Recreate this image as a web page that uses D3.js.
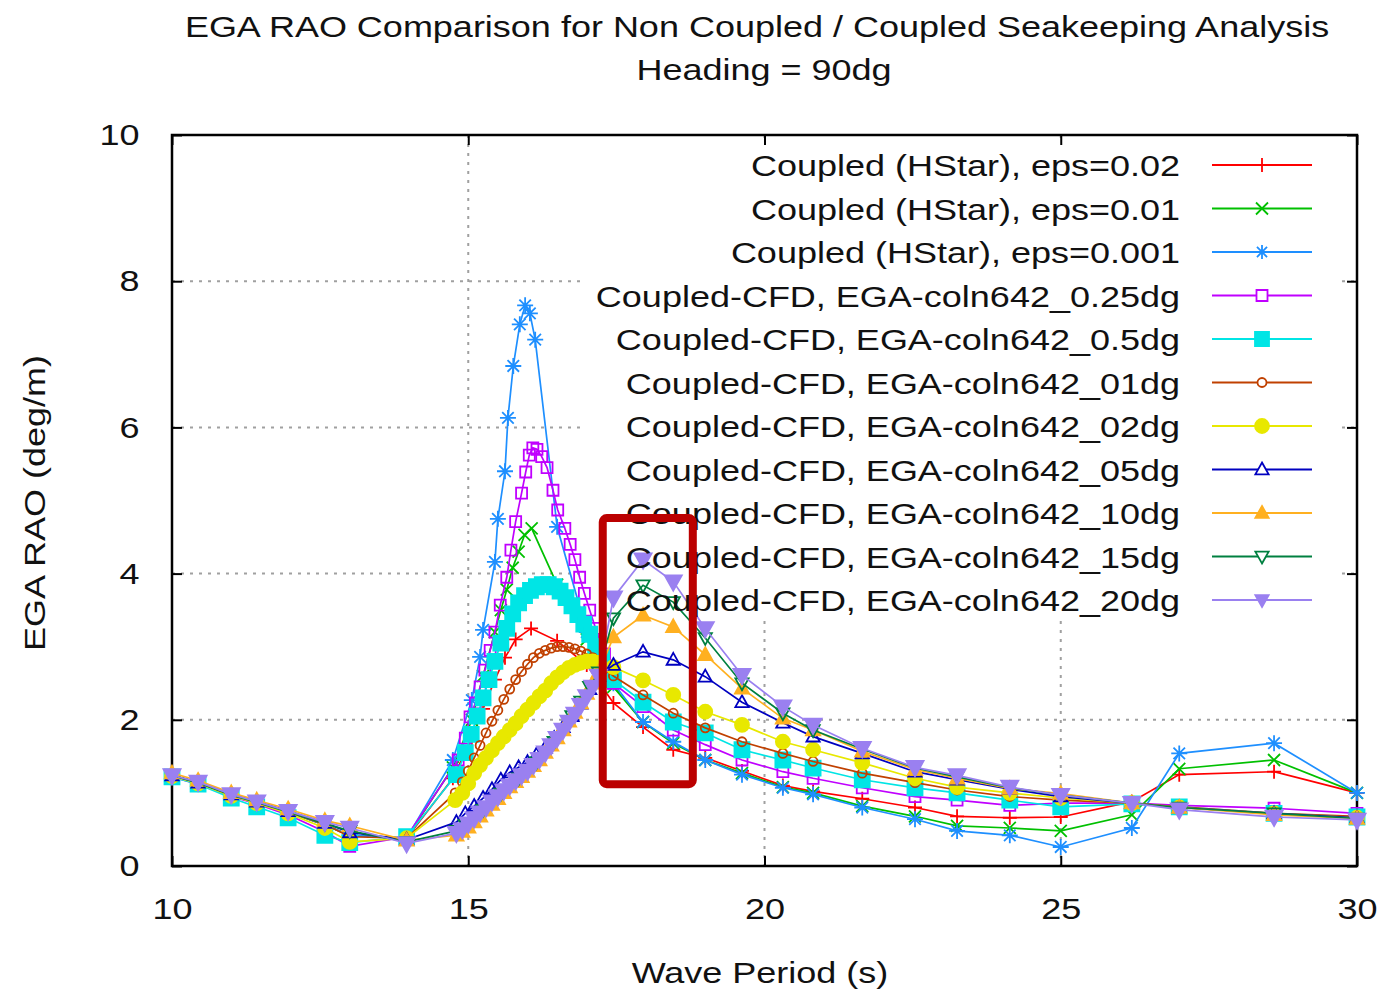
<!DOCTYPE html>
<html>
<head>
<meta charset="utf-8">
<script src="https://cdnjs.cloudflare.com/ajax/libs/d3/7.8.5/d3.min.js"></script>
<style>
  body { margin: 0; background: #fff; }
  text { font-family: "Liberation Sans", Arial, sans-serif; fill: #111; }
</style>
</head>
<body>
<script>
// wave periods shared by every series below 14 s and above 17.4 s
const periodsLow = [10, 10.44, 11, 11.43, 11.96, 12.58, 13, 13.96];
const periodsTail = [17.45, 17.95, 18.46, 19, 19.62, 20.31, 20.82, 21.65, 22.54, 23.25, 24.14, 25, 26.2, 27, 28.6, 30];

const seriesNames = [
  "Coupled (HStar), eps=0.02",
  "Coupled (HStar), eps=0.01",
  "Coupled (HStar), eps=0.001",
  "Coupled-CFD, EGA-coln642_0.25dg",
  "Coupled-CFD, EGA-coln642_0.5dg",
  "Coupled-CFD, EGA-coln642_01dg",
  "Coupled-CFD, EGA-coln642_02dg",
  "Coupled-CFD, EGA-coln642_05dg",
  "Coupled-CFD, EGA-coln642_10dg",
  "Coupled-CFD, EGA-coln642_15dg",
  "Coupled-CFD, EGA-coln642_20dg"
];

// RAO at periodsLow, one row per series
const raoLow = [
  [1.24, 1.14, 0.97, 0.87, 0.74, 0.56, 0.42, 0.38],
  [1.24, 1.14, 0.97, 0.87, 0.74, 0.56, 0.42, 0.38],
  [1.24, 1.14, 0.97, 0.87, 0.74, 0.56, 0.42, 0.38],
  [1.22, 1.12, 0.95, 0.85, 0.70, 0.47, 0.27, 0.40],
  [1.22, 1.12, 0.93, 0.81, 0.66, 0.42, 0.32, 0.40],
  [1.24, 1.14, 0.97, 0.87, 0.74, 0.57, 0.40, 0.38],
  [1.23, 1.13, 0.96, 0.86, 0.72, 0.52, 0.33, 0.38],
  [1.24, 1.14, 0.98, 0.88, 0.75, 0.59, 0.46, 0.36],
  [1.27, 1.17, 1.00, 0.90, 0.78, 0.62, 0.55, 0.35],
  [1.24, 1.14, 0.97, 0.87, 0.74, 0.58, 0.48, 0.33],
  [1.24, 1.15, 0.98, 0.88, 0.75, 0.60, 0.52, 0.31]
];

// [period, RAO] around the resonance, one row per series
const raoPeak = [
  [[14.74, 1.2], [15.06, 1.75], [15.25, 2.15], [15.45, 2.55], [15.62, 2.85], [15.8, 3.1], [16.06, 3.25], [16.5, 3.08], [17.0, 2.75]],
  [[14.74, 1.35], [15.06, 2.0], [15.25, 2.6], [15.45, 3.2], [15.55, 3.5], [15.65, 3.78], [15.75, 4.08], [15.85, 4.3], [15.95, 4.53], [16.07, 4.62], [16.5, 3.85], [17.0, 3.1]],
  [[14.74, 1.45], [15.06, 2.27], [15.2, 2.86], [15.25, 3.23], [15.45, 4.16], [15.5, 4.75], [15.62, 5.4], [15.67, 6.13], [15.76, 6.84], [15.87, 7.41], [15.96, 7.67], [16.04, 7.56], [16.13, 7.2], [16.5, 4.64], [17.0, 3.2]],
  [[14.83, 1.45], [14.95, 1.75], [15.03, 2.04], [15.12, 2.23], [15.2, 2.45], [15.28, 2.68], [15.37, 2.95], [15.45, 3.2], [15.54, 3.57], [15.65, 3.95], [15.72, 4.32], [15.8, 4.71], [15.9, 5.1], [15.97, 5.39], [16.03, 5.62], [16.09, 5.72], [16.16, 5.7], [16.24, 5.6], [16.33, 5.45], [16.43, 5.14], [16.51, 4.87], [16.63, 4.62], [16.72, 4.4], [16.8, 4.19], [16.88, 3.95], [16.96, 3.73], [17.05, 3.5], [17.15, 3.25], [17.3, 2.9]],
  [[14.8, 1.25], [14.95, 1.55], [15.05, 1.8], [15.15, 2.05], [15.25, 2.3], [15.35, 2.55], [15.45, 2.8], [15.55, 3.05], [15.65, 3.25], [15.75, 3.45], [15.85, 3.6], [15.95, 3.7], [16.05, 3.77], [16.15, 3.82], [16.25, 3.85], [16.35, 3.85], [16.45, 3.82], [16.55, 3.76], [16.65, 3.67], [16.75, 3.56], [16.85, 3.44], [16.95, 3.31], [17.05, 3.17], [17.15, 3.0], [17.25, 2.85], [17.35, 2.7]],
  [[14.78, 1.0], [14.9, 1.15], [15.0, 1.3], [15.1, 1.48], [15.2, 1.65], [15.3, 1.82], [15.4, 1.98], [15.5, 2.13], [15.6, 2.28], [15.7, 2.42], [15.8, 2.55], [15.9, 2.66], [16.0, 2.76], [16.1, 2.85], [16.2, 2.91], [16.3, 2.95], [16.4, 2.98], [16.5, 3.0], [16.6, 3.0], [16.7, 2.99], [16.8, 2.97], [16.9, 2.94], [17.0, 2.9], [17.1, 2.85], [17.2, 2.78], [17.3, 2.7]],
  [[14.78, 0.9], [14.9, 1.0], [15.0, 1.13], [15.1, 1.27], [15.2, 1.38], [15.3, 1.48], [15.4, 1.58], [15.5, 1.68], [15.6, 1.77], [15.7, 1.86], [15.8, 1.95], [15.9, 2.05], [16.0, 2.14], [16.1, 2.23], [16.2, 2.32], [16.3, 2.4], [16.4, 2.5], [16.5, 2.58], [16.6, 2.65], [16.7, 2.71], [16.8, 2.75], [16.9, 2.78], [17.0, 2.8], [17.1, 2.8], [17.2, 2.78]],
  [[14.8, 0.6], [14.95, 0.72], [15.1, 0.82], [15.25, 0.93], [15.4, 1.05], [15.55, 1.18], [15.7, 1.28], [15.85, 1.35], [16.0, 1.42], [16.15, 1.52], [16.3, 1.62], [16.45, 1.75], [16.6, 1.9], [16.75, 2.05], [16.9, 2.22], [17.05, 2.42], [17.2, 2.6]],
  [[14.8, 0.42], [14.9, 0.47], [15.0, 0.53], [15.1, 0.6], [15.2, 0.68], [15.3, 0.76], [15.4, 0.84], [15.5, 0.92], [15.6, 1.0], [15.7, 1.08], [15.8, 1.15], [15.9, 1.22], [16.0, 1.29], [16.1, 1.37], [16.2, 1.45], [16.3, 1.55], [16.4, 1.65], [16.5, 1.75], [16.6, 1.86], [16.7, 1.98], [16.8, 2.1], [16.9, 2.23], [17.0, 2.36], [17.1, 2.5], [17.2, 2.65]],
  [[14.8, 0.48], [14.95, 0.56], [15.1, 0.66], [15.25, 0.77], [15.4, 0.88], [15.55, 0.99], [15.7, 1.1], [15.85, 1.2], [16.0, 1.3], [16.15, 1.42], [16.3, 1.56], [16.45, 1.7], [16.6, 1.87], [16.75, 2.05], [16.9, 2.25], [17.05, 2.45], [17.2, 2.65]],
  [[14.8, 0.45], [14.9, 0.5], [15.0, 0.58], [15.1, 0.65], [15.2, 0.73], [15.3, 0.8], [15.4, 0.88], [15.5, 0.95], [15.6, 1.03], [15.7, 1.1], [15.8, 1.17], [15.9, 1.24], [16.0, 1.3], [16.1, 1.38], [16.2, 1.46], [16.3, 1.55], [16.4, 1.65], [16.5, 1.75], [16.6, 1.86], [16.7, 1.97], [16.8, 2.08], [16.9, 2.2], [17.0, 2.32], [17.1, 2.45], [17.2, 2.6]]
];

// RAO at periodsTail, one row per series
const raoTail = [
  [2.23, 1.90, 1.59, 1.48, 1.30, 1.10, 1.02, 0.92, 0.80, 0.68, 0.66, 0.67, 0.88, 1.25, 1.29, 1.00],
  [2.45, 1.97, 1.68, 1.45, 1.27, 1.08, 1.00, 0.82, 0.68, 0.55, 0.52, 0.48, 0.70, 1.33, 1.45, 1.00],
  [2.50, 1.97, 1.70, 1.45, 1.25, 1.07, 0.98, 0.80, 0.64, 0.48, 0.42, 0.26, 0.52, 1.54, 1.68, 1.00],
  [2.50, 2.18, 1.86, 1.66, 1.45, 1.29, 1.20, 1.07, 0.95, 0.90, 0.83, 0.86, 0.86, 0.83, 0.79, 0.72],
  [2.55, 2.24, 1.97, 1.82, 1.59, 1.45, 1.34, 1.18, 1.07, 1.00, 0.90, 0.81, 0.85, 0.81, 0.72, 0.67],
  [2.60, 2.34, 2.09, 1.89, 1.70, 1.54, 1.43, 1.27, 1.14, 1.04, 0.95, 0.90, 0.86, 0.81, 0.72, 0.68],
  [2.72, 2.54, 2.34, 2.11, 1.93, 1.70, 1.59, 1.41, 1.20, 1.08, 1.00, 0.93, 0.86, 0.80, 0.72, 0.66],
  [2.75, 2.93, 2.82, 2.59, 2.24, 1.96, 1.77, 1.54, 1.29, 1.18, 1.05, 0.95, 0.86, 0.80, 0.72, 0.66],
  [3.13, 3.43, 3.27, 2.89, 2.43, 2.02, 1.86, 1.57, 1.32, 1.20, 1.06, 0.99, 0.86, 0.80, 0.70, 0.65],
  [3.39, 3.84, 3.61, 3.12, 2.50, 2.09, 1.86, 1.60, 1.34, 1.22, 1.07, 0.97, 0.86, 0.80, 0.72, 0.65],
  [3.67, 4.19, 3.89, 3.25, 2.61, 2.18, 1.93, 1.61, 1.35, 1.24, 1.08, 0.97, 0.86, 0.77, 0.67, 0.63]
];

const xTicks = [10, 15, 20, 25, 30];
const yTicks = [0, 2, 4, 6, 8, 10];
const highlightBox = [[17.27, 4.76], [18.79, 1.12]];   // red annotation, in data units

const colors = ["#ff0000", "#00c000", "#1e8fff", "#c000ff", "#00e5e5", "#c04000",
                "#e8e800", "#0000c0", "#ffb020", "#008040", "#9a80f0"];
const markers = ["plus", "cross", "star", "square", "square", "circle",
                 "circle", "triUp", "triUp", "triDown", "triDown"];
const filled = [false, false, false, false, true, false, true, false, true, false, true];
const sizes = [7, 6, 8, 5.5, 7.5, 4.5, 7, 7, 7.5, 7, 9];

let W = 1380, H = 991;
let plotL = 172, plotR = 1357, plotT = 135, plotB = 866;
let stretch = "scale(1.2,1)";   // the source picture is horizontally stretched

let svg = d3.select("body").append("svg")
    .attr("width", W)
    .attr("height", H);

let x = d3.scaleLinear().domain([10, 30]).range([plotL, plotR]);
let y = d3.scaleLinear().domain([0, 10]).range([plotB, plotT]);

function markerPath(type, s) {
    switch (type) {
        case "plus":   return `M${-s},0H${s}M0,${-s}V${s}`;
        case "cross":  return `M${-s},${-s}L${s},${s}M${-s},${s}L${s},${-s}`;
        case "star": { let c = s * 0.72;
            return `M${-s},0H${s}M0,${-s}V${s}M${-c},${-c}L${c},${c}M${-c},${c}L${c},${-c}`; }
        case "square": return `M${-s},${-s}H${s}V${s}H${-s}Z`;
        case "circle": return `M${s},0A${s},${s} 0 1,1 ${-s},0A${s},${s} 0 1,1 ${s},0Z`;
        case "triUp":  return `M0,${-s}L${s * 0.95},${s * 0.7}L${-s * 0.95},${s * 0.7}Z`;
        case "triDown":return `M0,${s}L${s * 0.95},${-s * 0.7}L${-s * 0.95},${-s * 0.7}Z`;
    }
}

// build each series from its three parts
let series = seriesNames.map((name, i) => ({
    name: name, i: i,
    points: periodsLow.map((t, k) => [t, raoLow[i][k]])
        .concat(raoPeak[i])
        .concat(periodsTail.map((t, k) => [t, raoTail[i][k]]))
}));

// grid
let grid = svg.append("g")
    .attr("stroke", "#a0a0a0")
    .attr("stroke-width", 2)
    .attr("stroke-dasharray", "3,6");

grid.selectAll(".gx")
    .data(xTicks.slice(1, -1))
    .enter().append("line")
    .attr("x1", d => x(d)).attr("x2", d => x(d))
    .attr("y1", plotT).attr("y2", plotB);

grid.selectAll(".gy")
    .data(yTicks.slice(1, -1))
    .enter().append("line")
    .attr("y1", d => y(d)).attr("y2", d => y(d))
    .attr("x1", plotL).attr("x2", plotR);

// key background hides the grid behind the legend
svg.append("rect")
    .attr("x", 584).attr("y", 143)
    .attr("width", 757).attr("height", 478)
    .attr("fill", "#fff");

// border + inward ticks on all sides
let axisStyle = g => {
    g.select(".domain").remove();
    g.selectAll(".tick line").attr("stroke", "#000").attr("stroke-width", 2);
};

svg.append("g")
    .attr("transform", `translate(0,${plotB})`)
    .call(d3.axisBottom(x).tickValues(xTicks).tickSize(-10).tickPadding(32).tickFormat(d3.format("d")))
    .call(axisStyle)
    .call(g => g.selectAll("text")
        .attr("font-size", 30)
        .attr("font-family", "Liberation Sans, Arial, sans-serif")
        .attr("fill", "#111")
        .attr("transform", stretch));

svg.append("g")
    .attr("transform", `translate(${plotL},0)`)
    .call(d3.axisLeft(y).tickValues(yTicks).tickSize(-10).tickPadding(27).tickFormat(d3.format("d")))
    .call(axisStyle)
    .call(g => g.selectAll("text")
        .attr("font-size", 30)
        .attr("font-family", "Liberation Sans, Arial, sans-serif")
        .attr("fill", "#111")
        .attr("transform", stretch));

svg.append("g")
    .attr("transform", `translate(0,${plotT})`)
    .call(d3.axisTop(x).tickValues(xTicks).tickSize(-10).tickFormat(""))
    .call(axisStyle);

svg.append("g")
    .attr("transform", `translate(${plotR},0)`)
    .call(d3.axisRight(y).tickValues(yTicks).tickSize(-10).tickFormat(""))
    .call(axisStyle);

svg.append("rect")
    .attr("x", plotL).attr("y", plotT)
    .attr("width", plotR - plotL).attr("height", plotB - plotT)
    .attr("fill", "none")
    .attr("stroke", "#000")
    .attr("stroke-width", 2.5);

// series lines and markers
let line = d3.line().x(d => x(d[0])).y(d => y(d[1]));

let sg = svg.selectAll(".series")
    .data(series)
    .enter().append("g")
    .attr("class", "series");

sg.append("path")
    .attr("d", d => line(d.points))
    .attr("fill", "none")
    .attr("stroke", d => colors[d.i])
    .attr("stroke-width", 1.7);

sg.each(function (s) {
    d3.select(this).selectAll(".m")
        .data(s.points)
        .enter().append("path")
        .attr("transform", d => `translate(${x(d[0])},${y(d[1])})`)
        .attr("d", markerPath(markers[s.i], sizes[s.i]))
        .attr("fill", filled[s.i] ? colors[s.i] : "none")
        .attr("stroke", colors[s.i])
        .attr("stroke-width", 1.8);
});

// legend
let legend = svg.selectAll(".legend")
    .data(series)
    .enter().append("g")
    .attr("transform", d => `translate(0,${165 + d.i * 43.5})`);

legend.append("text")
    .attr("transform", `translate(1180,11) ${stretch}`)
    .attr("text-anchor", "end")
    .attr("font-size", 30)
    .text(d => d.name);

legend.append("line")
    .attr("x1", 1212).attr("x2", 1312)
    .attr("stroke", d => colors[d.i])
    .attr("stroke-width", 2);

legend.append("path")
    .attr("transform", "translate(1262,0)")
    .attr("d", d => markerPath(markers[d.i], Math.min(sizes[d.i], 7)))
    .attr("fill", d => filled[d.i] ? colors[d.i] : "#fff")
    .attr("stroke", d => colors[d.i])
    .attr("stroke-width", 1.8);

// titles
svg.append("text")
    .attr("transform", `translate(757,37) ${stretch}`)
    .attr("text-anchor", "middle")
    .attr("font-size", 30)
    .text("EGA RAO Comparison for Non Coupled / Coupled Seakeeping Analysis");

svg.append("text")
    .attr("transform", `translate(764,80) ${stretch}`)
    .attr("text-anchor", "middle")
    .attr("font-size", 30)
    .text("Heading = 90dg");

svg.append("text")
    .attr("transform", `translate(760,983) ${stretch}`)
    .attr("text-anchor", "middle")
    .attr("font-size", 30)
    .text("Wave Period (s)");

svg.append("text")
    .attr("transform", "translate(45,503) rotate(-90) scale(1.2,1)")
    .attr("text-anchor", "middle")
    .attr("font-size", 30)
    .text("EGA RAO  (deg/m)");

// red highlight box
svg.append("rect")
    .attr("x", x(highlightBox[0][0]))
    .attr("y", y(highlightBox[0][1]))
    .attr("width", x(highlightBox[1][0]) - x(highlightBox[0][0]))
    .attr("height", y(highlightBox[1][1]) - y(highlightBox[0][1]))
    .attr("rx", 4)
    .attr("fill", "none")
    .attr("stroke", "#bb0000")
    .attr("stroke-width", 8);
</script>
</body>
</html>
